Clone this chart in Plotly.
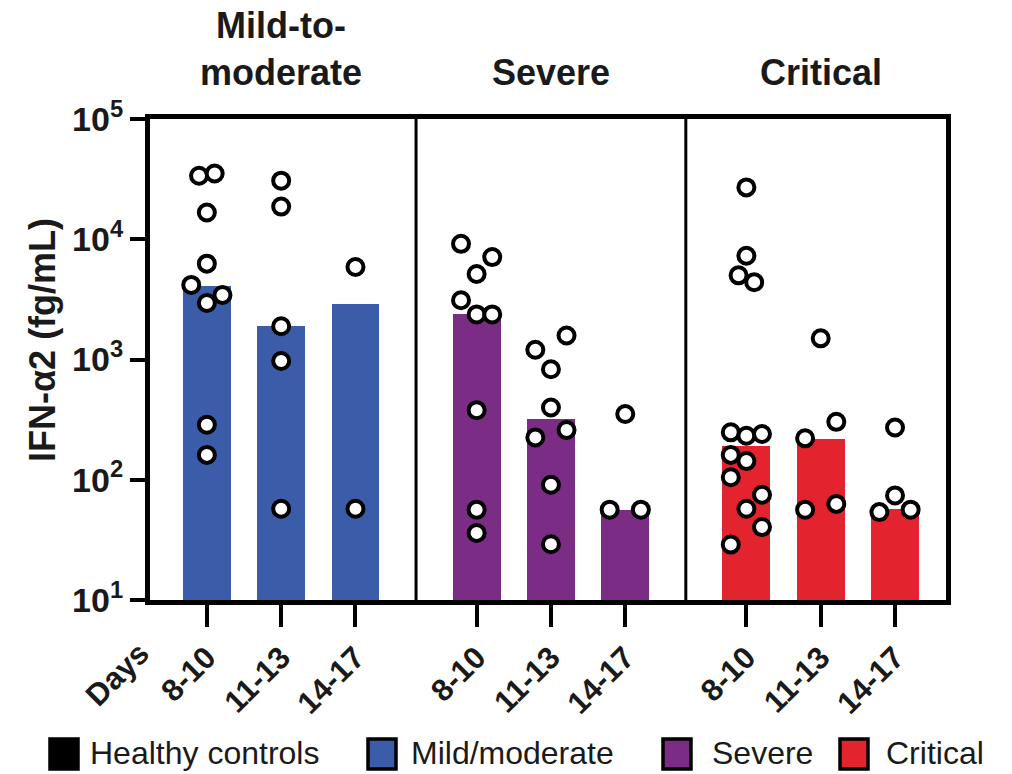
import plotly.graph_objects as go

# ---------------- data ----------------
group_titles = ["Mild-to-<br>moderate", "Severe", "Critical"]
day_bins = ["8-10", "11-13", "14-17"]
legend_labels = ["Healthy controls", "Mild/moderate", "Severe", "Critical"]
y_tick_vals = [10, 100, 1000, 10000, 100000]
y_tick_text = ["10<sup>1</sup>", "10<sup>2</sup>", "10<sup>3</sup>", "10<sup>4</sup>", "10<sup>5</sup>"]

# bar heights (medians), per day bin
mild_medians = [4060, 1890, 2920]
severe_medians = [2370, 320, 55.6]
critical_medians = [192, 218, 57]

# individual patient values (fg/mL)
mild_8_10 = [33700, 35200, 16700, 6270, 4170, 3440, 2950, 287, 161]
mild_11_13 = [30700, 18700, 1890, 972, 57.4]
mild_14_17 = [5880, 57.4]
severe_8_10 = [9160, 7110, 5140, 3110, 2370, 2370, 379, 56.4, 36.1]
severe_11_13 = [1585, 1205, 830, 399, 259, 225, 90.8, 29.1]
severe_14_17 = [352, 56.4, 56.4]
critical_8_10 = [27000, 7290, 5010, 4390, 248, 232, 240, 161, 143, 105, 75, 57.4, 40.4, 28.9]
critical_11_13 = [1500, 303, 221, 63, 56.4]
critical_14_17 = [272, 74.1, 53.8, 56.4]

# horizontal scatter offsets (in dot-steps) so overlapping dots are visible
mild_8_10_jit = [-1, 1, 0, 0, -2, 2, 0, 0, 0]
mild_11_13_jit = [0, 0, 0, 0, 0]
mild_14_17_jit = [0, 0]
severe_8_10_jit = [-2, 2, 0, -2, 0, 2, 0, 0, 0]
severe_11_13_jit = [2, -2, 0, 0, 2, -2, 0, 0]
severe_14_17_jit = [0, -2, 2]
critical_8_10_jit = [0, 0, -1, 1, -2, 0, 2, -2, 0, -2, 2, 0, 2, -2]
critical_11_13_jit = [0, 2, -2, 2, -2]
critical_14_17_jit = [0, 0, -2, 2]

colors = ["#3A5CA9", "#7B2C84", "#E3242F"]
legend_colors = ["#000000", "#3A5CA9", "#7B2C84", "#E3242F"]

medians = [mild_medians, severe_medians, critical_medians]
points = [[mild_8_10, mild_11_13, mild_14_17],
          [severe_8_10, severe_11_13, severe_14_17],
          [critical_8_10, critical_11_13, critical_14_17]]
jitters = [[mild_8_10_jit, mild_11_13_jit, mild_14_17_jit],
           [severe_8_10_jit, severe_11_13_jit, severe_14_17_jit],
           [critical_8_10_jit, critical_11_13_jit, critical_14_17_jit]]

# ---------------- layout geometry ----------------
PANEL_STEP = 3.63
JIT_STEP = 0.105
BAR_W = 0.645
X_RANGE = [-0.765, 9.946]
W, H = 1012, 774
L, R, T, B = 150, 66, 119, 174


def px_x(px):
    return (px - L) / (W - L - R)


def px_y(py):
    return (H - B - py) / (H - T - B)


FONT = "Liberation Sans, Arial, sans-serif"
TXT = "#1a1a1a"

fig = go.Figure()
tickvals, ticktext = [], []
for p in range(3):
    xs = [p * PANEL_STEP + j for j in range(3)]
    tickvals += xs
    ticktext += [f"<b>{d}</b>" for d in day_bins]
    fig.add_trace(go.Bar(x=xs, y=medians[p], width=BAR_W,
                         marker=dict(color=colors[p], line=dict(width=0)),
                         showlegend=False))
for p in range(3):
    sx, sy = [], []
    for j in range(3):
        for v, jt in zip(points[p][j], jitters[p][j]):
            sx.append(p * PANEL_STEP + j + jt * JIT_STEP)
            sy.append(v)
    fig.add_trace(go.Scatter(x=sx, y=sy, mode="markers",
                             marker=dict(symbol="circle", size=16, color="white",
                                         line=dict(color="black", width=4)),
                             showlegend=False, cliponaxis=False))

shapes = []
div_positions = [(2 + PANEL_STEP) / 2, (2 + PANEL_STEP) / 2 + PANEL_STEP]
for d in div_positions:
    shapes.append(dict(type="line", xref="x", yref="paper", x0=d, x1=d, y0=0, y1=1,
                       line=dict(color="black", width=3)))

# legend (manual)
leg_sq_x = [50, 368, 663, 840]
leg_txt_x = [88, 409, 710, 884]
annotations = []
for i, lab in enumerate(legend_labels):
    shapes.append(dict(type="rect", xref="paper", yref="paper",
                       x0=px_x(leg_sq_x[i]), x1=px_x(leg_sq_x[i] + 28),
                       y0=px_y(769), y1=px_y(739),
                       fillcolor=legend_colors[i], line=dict(color="black", width=3.5)))
    annotations.append(dict(text=lab, xref="paper", yref="paper",
                            x=px_x(leg_txt_x[i]), y=px_y(753), xanchor="left", yanchor="middle",
                            showarrow=False, font=dict(family=FONT, size=32, color=TXT)))

# group titles
for p in range(3):
    annotations.append(dict(text=f"<b>{group_titles[p]}</b>", xref="x", yref="paper",
                            x=p * PANEL_STEP + 1, y=px_y(95), xanchor="center", yanchor="bottom",
                            showarrow=False,
                            font=dict(family=FONT, size=36, color=TXT)))

# "Days" label
annotations.append(dict(text="<b>Days</b>", xref="paper", yref="paper",
                        x=px_x(117), y=px_y(674), xanchor="center", yanchor="middle",
                        textangle=-45, showarrow=False,
                        font=dict(family=FONT, size=31, color=TXT)))

# y axis title
annotations.append(dict(text="<b>IFN-α2 (fg/mL)</b>", xref="paper", yref="paper",
                        x=px_x(42), y=px_y(340), xanchor="center", yanchor="middle",
                        textangle=-90, showarrow=False,
                        font=dict(family=FONT, size=36, color=TXT)))

fig.update_layout(
    width=W, height=H,
    margin=dict(l=L, r=R, t=T, b=B, pad=0),
    plot_bgcolor="white", paper_bgcolor="white",
    shapes=shapes, annotations=annotations,
    bargap=0,
    font=dict(family=FONT, color=TXT),
    xaxis=dict(range=X_RANGE, tickmode="array", tickvals=tickvals, ticktext=ticktext,
               tickangle=-45, ticks="outside", ticklen=22, tickwidth=4, tickcolor="black",
               showline=True, linewidth=5, linecolor="black", mirror=True,
               showgrid=False, zeroline=False,
               tickfont=dict(family=FONT, size=31, color=TXT)),
    yaxis=dict(type="log", range=[1, 5], tickmode="array", tickvals=y_tick_vals,
               ticktext=[f"<b>{t}</b>" for t in y_tick_text],
               ticks="outside", ticklen=15, tickwidth=4, tickcolor="black",
               showline=True, linewidth=5, linecolor="black", mirror=True,
               showgrid=False, zeroline=False,
               tickfont=dict(family=FONT, size=34, color=TXT)),
)

fig.write_html("out.html", config={"displayModeBar": False},
               post_script="document.body.style.margin='0';document.body.style.overflow='hidden';")
